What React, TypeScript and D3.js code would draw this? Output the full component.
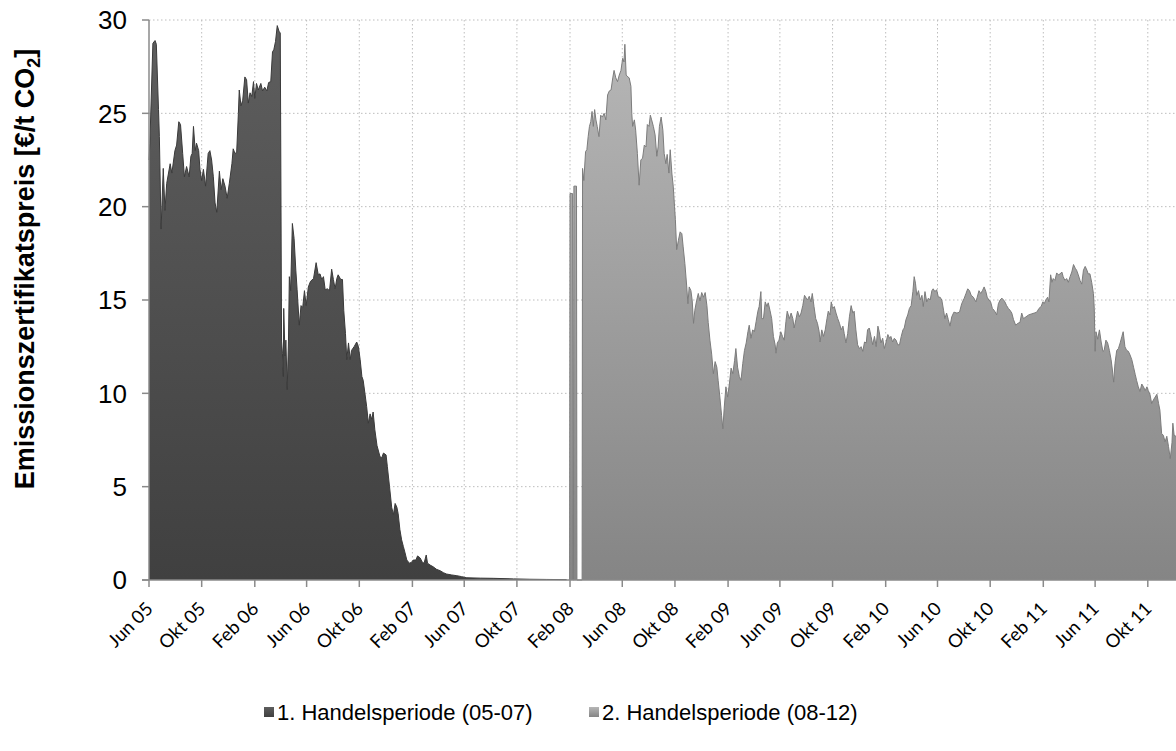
import React from "react";
import * as d3 from "d3";

// [days since 1 Jun 2005, price €/t]
const period1: [number, number][] = [
  [0,22.5],[2,23.4],[9,28.75],[14,28.9],[17,28.7],[22,25.2],[24,23.75],[28,18.8],[33,22.05],[37,19.8],[41,21.25],[49,22.3],[53,21.8],[60,23.0],[64,23.3],[69,24.55],[73,24.4],[78,22.85],[82,21.6],[87,22.15],[93,21.6],[97,22.7],[100,22.85],[103,24.3],[107,23.0],[110,23.4],[115,23.0],[118,22.0],[122,21.4],[126,22.0],[131,21.1],[137,22.85],[141,23.0],[145,22.5],[149,21.6],[153,20.2],[157,19.7],[163,21.9],[167,20.9],[171,21.5],[176,21.1],[181,20.45],[186,21.25],[192,22.3],[195,23.1],[199,22.85],[203,22.9],[207,25.0],[209,26.25],[213,25.4],[217,25.7],[222,26.95],[226,26.8],[230,25.55],[234,26.1],[238,25.9],[242,26.7],[245,25.8],[249,26.6],[253,26.25],[259,26.6],[263,26.2],[268,26.4],[273,26.2],[277,26.65],[282,26.7],[286,28.3],[289,28.4],[293,28.85],[297,29.7],[301,29.4],[304,29.3],
  [307,12.8],[309,12.15],[311,10.9],[312,14.55],[315,12.0],[317,12.85],[320,10.2],[323,12.8],[325,16.25],[328,15.5],[332,19.1],[336,18.3],[340,16.6],[343,15.55],[348,13.65],[352,14.7],[356,14.6],[360,15.5],[364,14.7],[369,15.7],[374,16.0],[381,16.15],[387,17.0],[392,16.35],[396,16.4],[400,16.1],[404,16.25],[408,15.55],[413,15.6],[418,15.5],[423,16.65],[427,16.1],[431,15.6],[435,16.15],[438,16.35],[444,16.1],[448,16.1],[451,14.45],[455,13.2],[458,11.8],[462,12.7],[466,11.8],[469,12.3],[475,12.5],[481,12.75],[485,12.5],[489,11.8],[493,10.9],[496,10.7],[500,10.0],[504,9.3],[508,8.4],[512,8.9],[516,8.6],[519,9.0],[523,8.05],[528,7.2],[535,6.6],[539,6.55],[543,6.8],[549,6.7],[552,6.07],[557,5.0],[562,3.9],[566,3.5],[570,4.1],[574,3.9],[577,3.55],[581,2.7],[585,2.15],[589,1.8],[593,1.45],[597,1.07],[603,0.9],[608,0.95],[612,1.07],[618,1.07],[622,1.29],[628,1.18],[633,0.95],[637,0.9],[642,1.34],[645,0.9],[651,0.8],[658,0.71],[666,0.57],[674,0.5],[682,0.39],[689,0.32],[701,0.27],[713,0.23],[724,0.18],[736,0.12],[767,0.1],[797,0.09],[844,0.06],[882,0.04],[921,0.03],[967,0.02]
];

const period2: [number, number][] = [
  [974,0],[975,20.7],[981,20.7],[982,0],[983,0],[984,21.1],[990,21.1],[991,0],[1003,0],
  [1004,22.05],[1007,21.4],[1011,22.95],[1014,23.05],[1017,23.75],[1020,24.3],[1023,24.55],[1026,25.1],[1029,24.3],[1032,25.2],[1035,24.65],[1038,24.3],[1042,23.75],[1046,24.9],[1050,24.8],[1054,25.0],[1058,24.65],[1062,25.98],[1066,26.2],[1070,26.25],[1074,26.9],[1077,27.3],[1081,26.9],[1085,26.7],[1089,27.05],[1093,27.3],[1097,27.95],[1100,27.75],[1102,28.7],[1105,27.05],[1109,26.95],[1112,26.9],[1116,26.45],[1118,25.0],[1120,24.3],[1124,24.65],[1127,24.1],[1131,22.85],[1135,21.15],[1139,22.5],[1143,22.6],[1147,23.3],[1151,23.2],[1154,24.4],[1158,24.3],[1161,24.9],[1164,24.65],[1168,24.3],[1172,23.85],[1176,22.7],[1179,23.2],[1182,24.3],[1186,24.8],[1190,24.1],[1193,22.85],[1197,22.3],[1200,22.8],[1204,21.8],[1207,23.05],[1211,21.75],[1214,21.1],[1217,20.0],[1219,19.3],[1222,17.7],[1226,18.2],[1230,18.65],[1234,18.55],[1237,17.85],[1241,16.95],[1245,15.8],[1248,14.8],[1251,15.7],[1255,15.5],[1258,14.95],[1261,13.75],[1264,14.45],[1268,14.95],[1272,15.35],[1276,14.95],[1280,15.4],[1284,15.15],[1288,15.4],[1292,14.7],[1295,13.8],[1299,12.85],[1303,12.1],[1307,11.05],[1311,11.7],[1315,11.4],[1318,10.7],[1322,9.8],[1326,8.8],[1329,8.1],[1332,9.2],[1336,10.35],[1340,9.8],[1344,10.5],[1348,11.35],[1352,11.05],[1356,11.75],[1359,12.4],[1363,11.4],[1367,10.9],[1371,10.7],[1375,11.6],[1379,12.3],[1383,12.7],[1387,13.3],[1390,13.65],[1394,12.95],[1398,13.4],[1402,13.3],[1406,13.85],[1410,14.4],[1413,14.65],[1417,15.45],[1419,14.0],[1423,14.0],[1427,14.9],[1431,14.65],[1434,14.85],[1438,14.45],[1442,14.0],[1446,13.05],[1450,12.6],[1452,12.15],[1455,12.7],[1459,12.85],[1463,13.3],[1467,13.05],[1471,12.85],[1475,13.85],[1478,14.4],[1483,14.0],[1487,14.3],[1491,14.0],[1494,13.5],[1498,13.95],[1502,14.4],[1506,14.1],[1510,14.3],[1514,14.7],[1518,15.25],[1522,15.1],[1525,15.0],[1529,15.2],[1533,14.9],[1536,15.35],[1540,14.65],[1544,14.0],[1548,13.75],[1552,13.3],[1554,12.75],[1558,13.4],[1562,13.05],[1566,13.4],[1570,14.0],[1573,14.4],[1577,14.2],[1580,14.9],[1583,14.55],[1587,14.65],[1591,14.3],[1595,14.0],[1599,13.75],[1603,13.4],[1607,13.6],[1610,13.2],[1614,12.7],[1618,13.2],[1622,14.1],[1626,14.7],[1630,14.3],[1633,14.4],[1637,13.4],[1641,12.6],[1645,12.4],[1649,12.5],[1653,12.25],[1657,12.75],[1661,12.7],[1664,13.4],[1668,13.5],[1672,13.05],[1676,12.6],[1680,13.05],[1684,12.5],[1688,13.6],[1691,13.3],[1695,12.7],[1699,12.95],[1703,12.4],[1707,12.75],[1711,13.15],[1715,12.95],[1718,13.05],[1722,12.75],[1726,12.95],[1730,12.85],[1734,12.6],[1738,12.6],[1742,13.05],[1746,13.4],[1749,13.5],[1753,13.95],[1757,14.2],[1761,14.55],[1765,14.7],[1769,15.45],[1772,16.25],[1775,15.9],[1778,15.25],[1782,15.5],[1786,15.0],[1790,15.25],[1793,14.65],[1797,15.45],[1801,14.9],[1805,15.1],[1809,15.0],[1813,15.5],[1816,15.6],[1820,15.45],[1824,15.55],[1828,15.15],[1832,15.15],[1836,15.0],[1840,14.45],[1843,14.0],[1847,14.3],[1851,13.95],[1855,13.6],[1859,14.1],[1864,14.35],[1871,14.3],[1877,14.35],[1882,14.8],[1888,15.1],[1892,15.35],[1896,15.6],[1900,15.5],[1904,15.25],[1909,15.15],[1915,14.9],[1918,15.15],[1922,15.5],[1926,15.35],[1930,15.5],[1934,15.7],[1938,15.45],[1941,15.15],[1945,15.0],[1949,14.9],[1953,14.55],[1957,14.45],[1961,14.3],[1963,14.2],[1967,14.8],[1971,15.0],[1975,15.1],[1979,15.0],[1982,14.9],[1986,14.7],[1990,14.55],[1994,14.45],[1998,14.3],[2002,13.95],[2007,13.65],[2012,13.75],[2017,13.8],[2021,14.3],[2025,14.0],[2031,14.1],[2037,14.2],[2043,14.25],[2050,14.3],[2056,14.35],[2061,14.55],[2066,14.65],[2070,14.9],[2073,14.8],[2077,15.0],[2081,15.15],[2084,14.9],[2088,16.35],[2091,15.95],[2094,16.15],[2098,16.05],[2102,16.45],[2106,16.35],[2110,16.4],[2114,16.5],[2117,16.25],[2121,16.05],[2125,16.15],[2129,15.95],[2133,16.25],[2137,16.5],[2141,16.9],[2145,16.7],[2148,16.6],[2152,16.35],[2156,16.05],[2160,15.85],[2164,16.6],[2168,16.8],[2172,16.6],[2175,16.4],[2179,16.4],[2183,15.95],[2187,15.35],[2189,14.55],[2191,12.25],[2193,13.3],[2197,12.9],[2201,13.4],[2205,12.75],[2209,12.25],[2212,12.3],[2216,12.85],[2220,12.7],[2224,12.3],[2228,11.8],[2231,11.25],[2234,10.6],[2237,11.6],[2241,12.3],[2245,12.4],[2249,12.7],[2253,13.05],[2256,13.3],[2260,12.5],[2264,12.3],[2268,12.25],[2272,12.05],[2276,11.8],[2280,11.4],[2284,11.0],[2287,10.7],[2291,10.35],[2295,10.1],[2299,10.5],[2303,10.35],[2307,10.15],[2311,10.35],[2314,10.15],[2318,9.95],[2322,9.45],[2326,9.65],[2330,9.8],[2334,9.95],[2338,9.45],[2341,9.1],[2345,7.85],[2349,7.75],[2353,7.4],[2357,7.7],[2361,7.15],[2365,6.5],[2369,7.35],[2371,8.4],[2374,7.75],[2378,7.7],[2390,7.5]
];

const xTickLabels = ["Jun 05","Okt 05","Feb 06","Jun 06","Okt 06","Feb 07","Jun 07","Okt 07","Feb 08","Jun 08","Okt 08","Feb 09","Jun 09","Okt 09","Feb 10","Jun 10","Okt 10","Feb 11","Jun 11","Okt 11"];
const yTicks = [0, 5, 10, 15, 20, 25, 30];
const seriesNames = ["1. Handelsperiode (05-07)", "2. Handelsperiode (08-12)"];

const START = Date.UTC(2005, 5, 1);
const toDate = (d: number) => new Date(START + d * 86400000);

export default function App() {
  const W = 1176, H = 751;
  const x = d3.scaleUtc()
    .domain([new Date(Date.UTC(2005, 5, 1)), new Date(Date.UTC(2011, 9, 1))])
    .range([149, 1147.8]);
  const y = d3.scaleLinear().domain([0, 30]).range([580, 20]);
  const tickDates = d3.utcMonth.range(new Date(Date.UTC(2005, 5, 1)), new Date(Date.UTC(2011, 10, 1)), 4);

  const area = d3.area<[number, number]>()
    .x(d => x(toDate(d[0])))
    .y0(y(0))
    .y1(d => y(d[1]));
  const line = d3.line<[number, number]>()
    .x(d => x(toDate(d[0])))
    .y(d => y(d[1]));

  const sans = "'Liberation Sans', Arial, sans-serif";
  const x0 = x.range()[0];
  const legendX = [264, 589];

  return (
    <svg width={W} height={H} style={{ position: "absolute", left: 0, top: 0, background: "#fff" }}>
      <defs>
        <linearGradient id="g1" x1="0" y1="0" x2="0" y2="1">
          <stop offset="0" stopColor="#5e5e5e" />
          <stop offset="1" stopColor="#404040" />
        </linearGradient>
        <linearGradient id="g2" x1="0" y1="0" x2="0" y2="1">
          <stop offset="0" stopColor="#b6b6b6" />
          <stop offset="1" stopColor="#858585" />
        </linearGradient>
      </defs>
      {yTicks.filter(t => t > 0).map(t => (
        <line key={"hg" + t} x1={x0} x2={W + 20} y1={y(t)} y2={y(t)} stroke="#bdbdbd" strokeWidth={1} strokeDasharray="1.5,2.5" />
      ))}
      {tickDates.slice(1).map((d, i) => (
        <line key={"vg" + i} x1={x(d)} x2={x(d)} y1={y(30)} y2={y(0)} stroke="#bdbdbd" strokeWidth={1} strokeDasharray="1.5,2.5" />
      ))}
      <path d={area(period1) || ""} fill="url(#g1)" />
      <path d={line(period1) || ""} fill="none" stroke="#3a3a3a" strokeWidth={1} />
      <path d={area(period2) || ""} fill="url(#g2)" />
      <path d={line(period2) || ""} fill="none" stroke="#7c7c7c" strokeWidth={1} />
      <line x1={x0} x2={x0} y1={y(30)} y2={y(0)} stroke="#8a8a8a" strokeWidth={1.5} />
      <line x1={x0 - 7} x2={W + 20} y1={y(0)} y2={y(0)} stroke="#8a8a8a" strokeWidth={1.5} />
      {yTicks.map(t => (
        <g key={"yt" + t}>
          <line x1={x0 - 7} x2={x0} y1={y(t)} y2={y(t)} stroke="#8a8a8a" strokeWidth={1.5} />
          <text x={127} y={y(t)} dy="0.36em" textAnchor="end" fontFamily={sans} fontSize={26} fill="#000">{t}</text>
        </g>
      ))}
      {tickDates.map((d, i) => (
        <g key={"xt" + i}>
          <line x1={x(d)} x2={x(d)} y1={y(0)} y2={y(0) + 7} stroke="#8a8a8a" strokeWidth={1.5} />
          <text transform={`translate(${x(d) + 5},${y(0) + 30}) rotate(-45)`} textAnchor="end" fontFamily="Lato, 'Open Sans', sans-serif" fontSize={18.5} fill="#000">{xTickLabels[i]}</text>
        </g>
      ))}
      <text transform={`translate(34,269) rotate(-90)`} textAnchor="middle" fontFamily={sans} fontWeight="bold" fontSize={27} fill="#000">
        Emissionszertifikatspreis [€/t CO<tspan dy="6" fontSize={18}>2</tspan><tspan dy="-6">]</tspan>
      </text>
      {seriesNames.map((n, i) => (
        <g key={"lg" + i} transform={`translate(${legendX[i]},712)`}>
          <rect x={0} y={-5} width={10} height={10} fill={i === 0 ? "url(#g1)" : "url(#g2)"} />
          <text x={13} y={0} dy="0.36em" fontFamily={sans} fontSize={22} fill="#000">{n}</text>
        </g>
      ))}
    </svg>
  );
}
